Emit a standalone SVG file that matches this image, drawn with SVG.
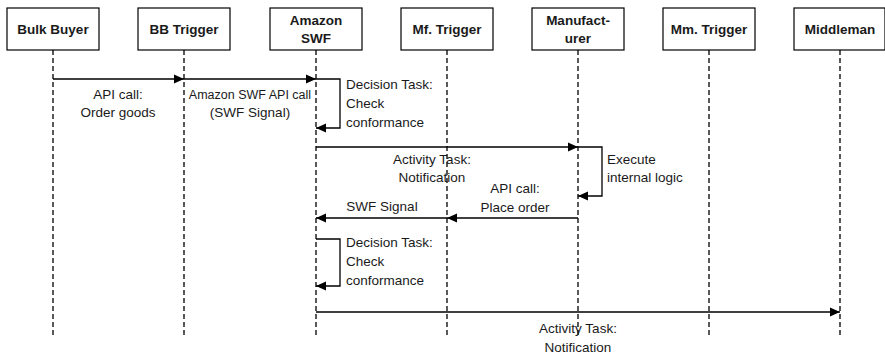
<svg xmlns="http://www.w3.org/2000/svg" width="885" height="356" viewBox="0 0 885 356">
<style>
.box{fill:#fff;stroke:#000;stroke-width:1.2}
.life{stroke:#000;stroke-width:1.3;stroke-dasharray:5,3;fill:none}
.msg{stroke:#000;stroke-width:1.3;fill:none}
.t{font-family:"Liberation Sans",Arial,sans-serif;font-size:13.5px;fill:#1a1a1a}
.b{font-family:"Liberation Sans",Arial,sans-serif;font-size:13.5px;font-weight:bold;fill:#1a1a1a;text-anchor:middle}
.m{text-anchor:middle}
.s{font-size:12.5px}
</style>
<defs>
<marker id="ah" markerUnits="userSpaceOnUse" markerWidth="10" markerHeight="10" viewBox="0 0 10 10" refX="10" refY="5" orient="auto">
<path d="M0,0.5 L10,5 L0,9.5 z" fill="#000"/>
</marker>
</defs>
<g id="lifelines">
<line class="life" x1="53" y1="50" x2="53" y2="338"/>
<line class="life" x1="184" y1="50" x2="184" y2="338"/>
<line class="life" x1="316" y1="50" x2="316" y2="338"/>
<line class="life" x1="447" y1="50" x2="447" y2="338"/>
<line class="life" x1="578" y1="50" x2="578" y2="338"/>
<line class="life" x1="709" y1="50" x2="709" y2="338"/>
<line class="life" x1="840" y1="50" x2="840" y2="338"/>
</g>
<g id="bulk-buyer"><rect class="box" x="7" y="8" width="92" height="42"/><text class="b" x="53" y="34">Bulk Buyer</text></g>
<g id="bb-trigger"><rect class="box" x="138" y="8" width="92" height="42"/><text class="b" x="184" y="34">BB Trigger</text></g>
<g id="amazon-swf"><rect class="box" x="270" y="8" width="92" height="42"/><text class="b" x="316" y="25">Amazon</text><text class="b" x="316" y="43">SWF</text></g>
<g id="mf-trigger"><rect class="box" x="401" y="8" width="92" height="42"/><text class="b" x="447" y="34">Mf. Trigger</text></g>
<g id="manufacturer"><rect class="box" x="532" y="8" width="92" height="42"/><text class="b" x="578" y="25">Manufact-</text><text class="b" x="578" y="43">urer</text></g>
<g id="mm-trigger"><rect class="box" x="663" y="8" width="92" height="42"/><text class="b" x="709" y="34">Mm. Trigger</text></g>
<g id="middleman"><rect class="box" x="794" y="8" width="91" height="42"/><text class="b" x="840" y="34">Middleman</text></g>
<g id="connectors">
<line class="msg" x1="53" y1="79" x2="184" y2="79" marker-end="url(#ah)"/>
<line class="msg" x1="184" y1="79" x2="316" y2="79" marker-end="url(#ah)"/>
<path class="msg" d="M316,79 H340 V128 H316" marker-end="url(#ah)"/>
<line class="msg" x1="316" y1="147" x2="578" y2="147" marker-end="url(#ah)"/>
<path class="msg" d="M578,147 H602 V196 H578" marker-end="url(#ah)"/>
<line class="msg" x1="578" y1="218" x2="447" y2="218" marker-end="url(#ah)"/>
<line class="msg" x1="447" y1="218" x2="316" y2="218" marker-end="url(#ah)"/>
<path class="msg" d="M316,239 H340 V286 H316" marker-end="url(#ah)"/>
<line class="msg" x1="316" y1="312" x2="840" y2="312" marker-end="url(#ah)"/>
</g>
<g id="labels">
<text class="t m" x="118" y="99">API call:</text>
<text class="t m" x="118" y="117">Order goods</text>
<text class="t m s" x="250" y="99">Amazon SWF API call</text>
<text class="t m" x="250" y="117">(SWF Signal)</text>
<text class="t" x="346" y="89">Decision Task:</text>
<text class="t" x="346" y="108">Check</text>
<text class="t" x="346" y="127">conformance</text>
<text class="t m" x="432" y="164">Activity Task:</text>
<text class="t m" x="432" y="182">Notification</text>
<text class="t" x="607" y="164">Execute</text>
<text class="t" x="607" y="182">internal logic</text>
<text class="t m" x="515" y="193">API call:</text>
<text class="t m" x="515" y="212">Place order</text>
<text class="t m" x="382" y="211">SWF Signal</text>
<text class="t" x="346" y="247">Decision Task:</text>
<text class="t" x="346" y="266">Check</text>
<text class="t" x="346" y="285">conformance</text>
<text class="t m" x="578" y="333">Activity Task:</text>
<text class="t m" x="578" y="352">Notification</text>
</g>
</svg>
